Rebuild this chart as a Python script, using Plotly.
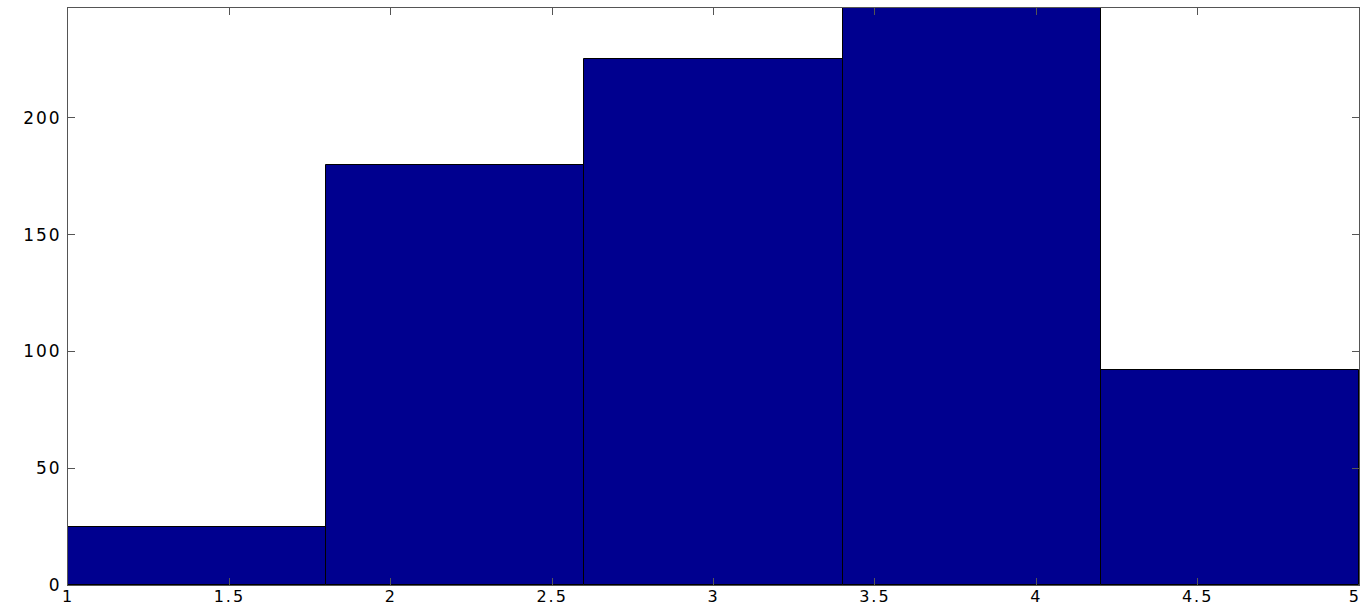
import plotly.graph_objects as go

# Histogram data (bin centers, counts)
bin_centers = [1.4, 2.2, 3.0, 3.8, 4.6]
counts = [25, 180, 225, 247, 92]
bin_width = 0.8

x_ticks = [1, 1.5, 2, 2.5, 3, 3.5, 4, 4.5, 5]
x_tick_labels = ["1", "1.5", "2", "2.5", "3", "3.5", "4", "4.5", "5"]
y_ticks = [0, 50, 100, 150, 200]
y_tick_labels = ["0", "50", "100", "150", "200"]

fig = go.Figure(
    go.Bar(
        x=bin_centers,
        y=counts,
        width=[bin_width] * len(bin_centers),
        marker=dict(color="#00008F", line=dict(color="black", width=1)),
        hoverinfo="x+y",
    )
)

axis_common = dict(
    showgrid=False,
    zeroline=False,
    showline=True,
    linecolor="#555555",
    linewidth=1,
    mirror="ticks",
    ticks="inside",
    ticklen=7,
    tickcolor="#555555",
    automargin=False,
    ticklabeloverflow="allow",
)

fig.update_layout(
    width=1361,
    height=606,
    margin=dict(l=68, r=2, t=8, b=21, autoexpand=False),
    paper_bgcolor="white",
    plot_bgcolor="white",
    showlegend=False,
    bargap=0,
    xaxis=dict(
        range=[1, 5],
        tickvals=x_ticks,
        ticktext=x_tick_labels,
        ticklabelstandoff=-3,
        tickfont=dict(family="DejaVu Sans", size=16, color="black"),
        **axis_common,
    ),
    yaxis=dict(
        range=[0, 247],
        tickvals=y_ticks,
        ticktext=y_tick_labels,
        ticklabelstandoff=2,
        tickfont=dict(family="DejaVu Sans", size=17, color="black"),
        **axis_common,
    ),
)

post = """
document.body.style.margin='0';
document.body.style.overflow='hidden';
document.querySelectorAll('.xtick text, .ytick text').forEach(function(t){t.style.letterSpacing='2px';});
var xt = document.querySelectorAll('.xtick text');
if (xt.length) { var last = xt[xt.length-1]; last.setAttribute('text-anchor','end'); last.style.letterSpacing='0px'; }
"""

fig.write_html("out.html", post_script=post, config={"displayModeBar": False})
